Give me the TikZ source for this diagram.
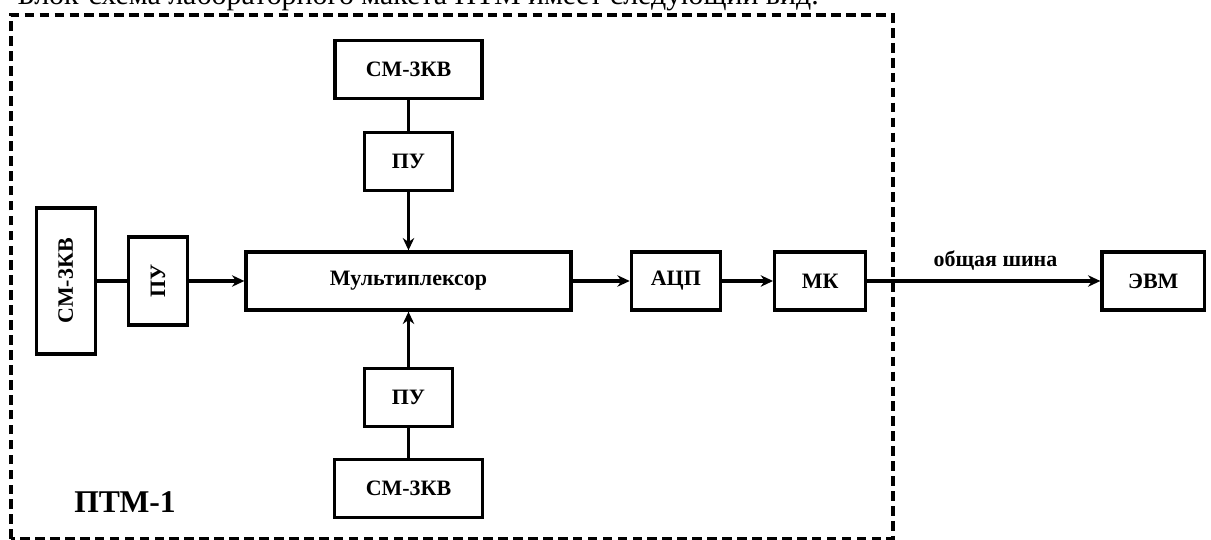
\documentclass[tikz,border=0pt]{standalone}
\usepackage{fontspec}
\usepackage{graphicx}
\setmainfont{Liberation Serif}
\usetikzlibrary{arrows.meta,positioning}

\begin{document}
\begin{tikzpicture}[
  font=\bfseries\fontsize{12.5}{14}\selectfont,
  >={Stealth[length=7pt,width=6.5pt]},
  line width=1.9pt,
  block/.style={draw, line width=1.9pt, minimum height=1.16cm, inner sep=0pt, align=center},
  ptmframe/.style={draw, dash pattern=on 5.5pt off 3pt, line width=1.8pt},
]
\clip (0,0) rectangle (24.22,10.8);

% heading line, cut off by the page top
\node[anchor=base west, font=\fontsize{17}{20}\selectfont] (head) at (0.2,10.7)
  {Блок-схема лабораторного макета ПТМ имеет следующий вид.};

% centre column
\node[block, minimum width=6.5cm]                        (mux) at (8.17,5.18) {Мультиплексор};
\node[block, minimum width=1.76cm, above=1.16cm of mux]  (pu1) {ПУ};
\node[block, minimum width=2.94cm, above=0.62cm of pu1]  (sm1) {СМ-3КВ};
\node[block, minimum width=1.76cm, below=1.1cm of mux]   (pu3) {ПУ};
\node[block, minimum width=2.96cm, below=0.6cm of pu3]   (sm3) {СМ-3КВ};

% left branch
\node[block, minimum width=1.18cm, minimum height=1.76cm, left=1.1cm of mux] (pu2) {\rotatebox{90}{ПУ}};
\node[block, minimum width=1.18cm, minimum height=2.92cm, left=0.6cm of pu2] (sm2) {\rotatebox{90}{СМ-3КВ}};

% output chain
\node[block, minimum width=1.78cm, right=1.14cm of mux] (adc) {АЦП};
\node[block, minimum width=1.82cm, right=1.02cm of adc] (mk)  {МК};
\node[block, minimum width=2.05cm, right=4.66cm of mk]  (evm) {ЭВМ};

% board boundary
\draw[ptmframe] (0.22,0.02) rectangle (17.86,10.5);
\node[font=\bfseries\fontsize{18}{20}\selectfont] (ptm) at (2.5,0.76) {ПТМ-1};

% wires
\draw (sm1) -- (pu1);
\draw[->] (pu1) -- (mux);
\draw (sm3) -- (pu3);
\draw[->] (pu3) -- (mux);
\draw (sm2) -- (pu2);
\draw[->] (pu2) -- (mux);
\draw[->] (mux) -- (adc);
\draw[->] (adc) -- (mk);
\draw[->] (mk) -- node[above=2pt, pos=0.55] {общая шина} (evm);

\end{tikzpicture}
\end{document}
